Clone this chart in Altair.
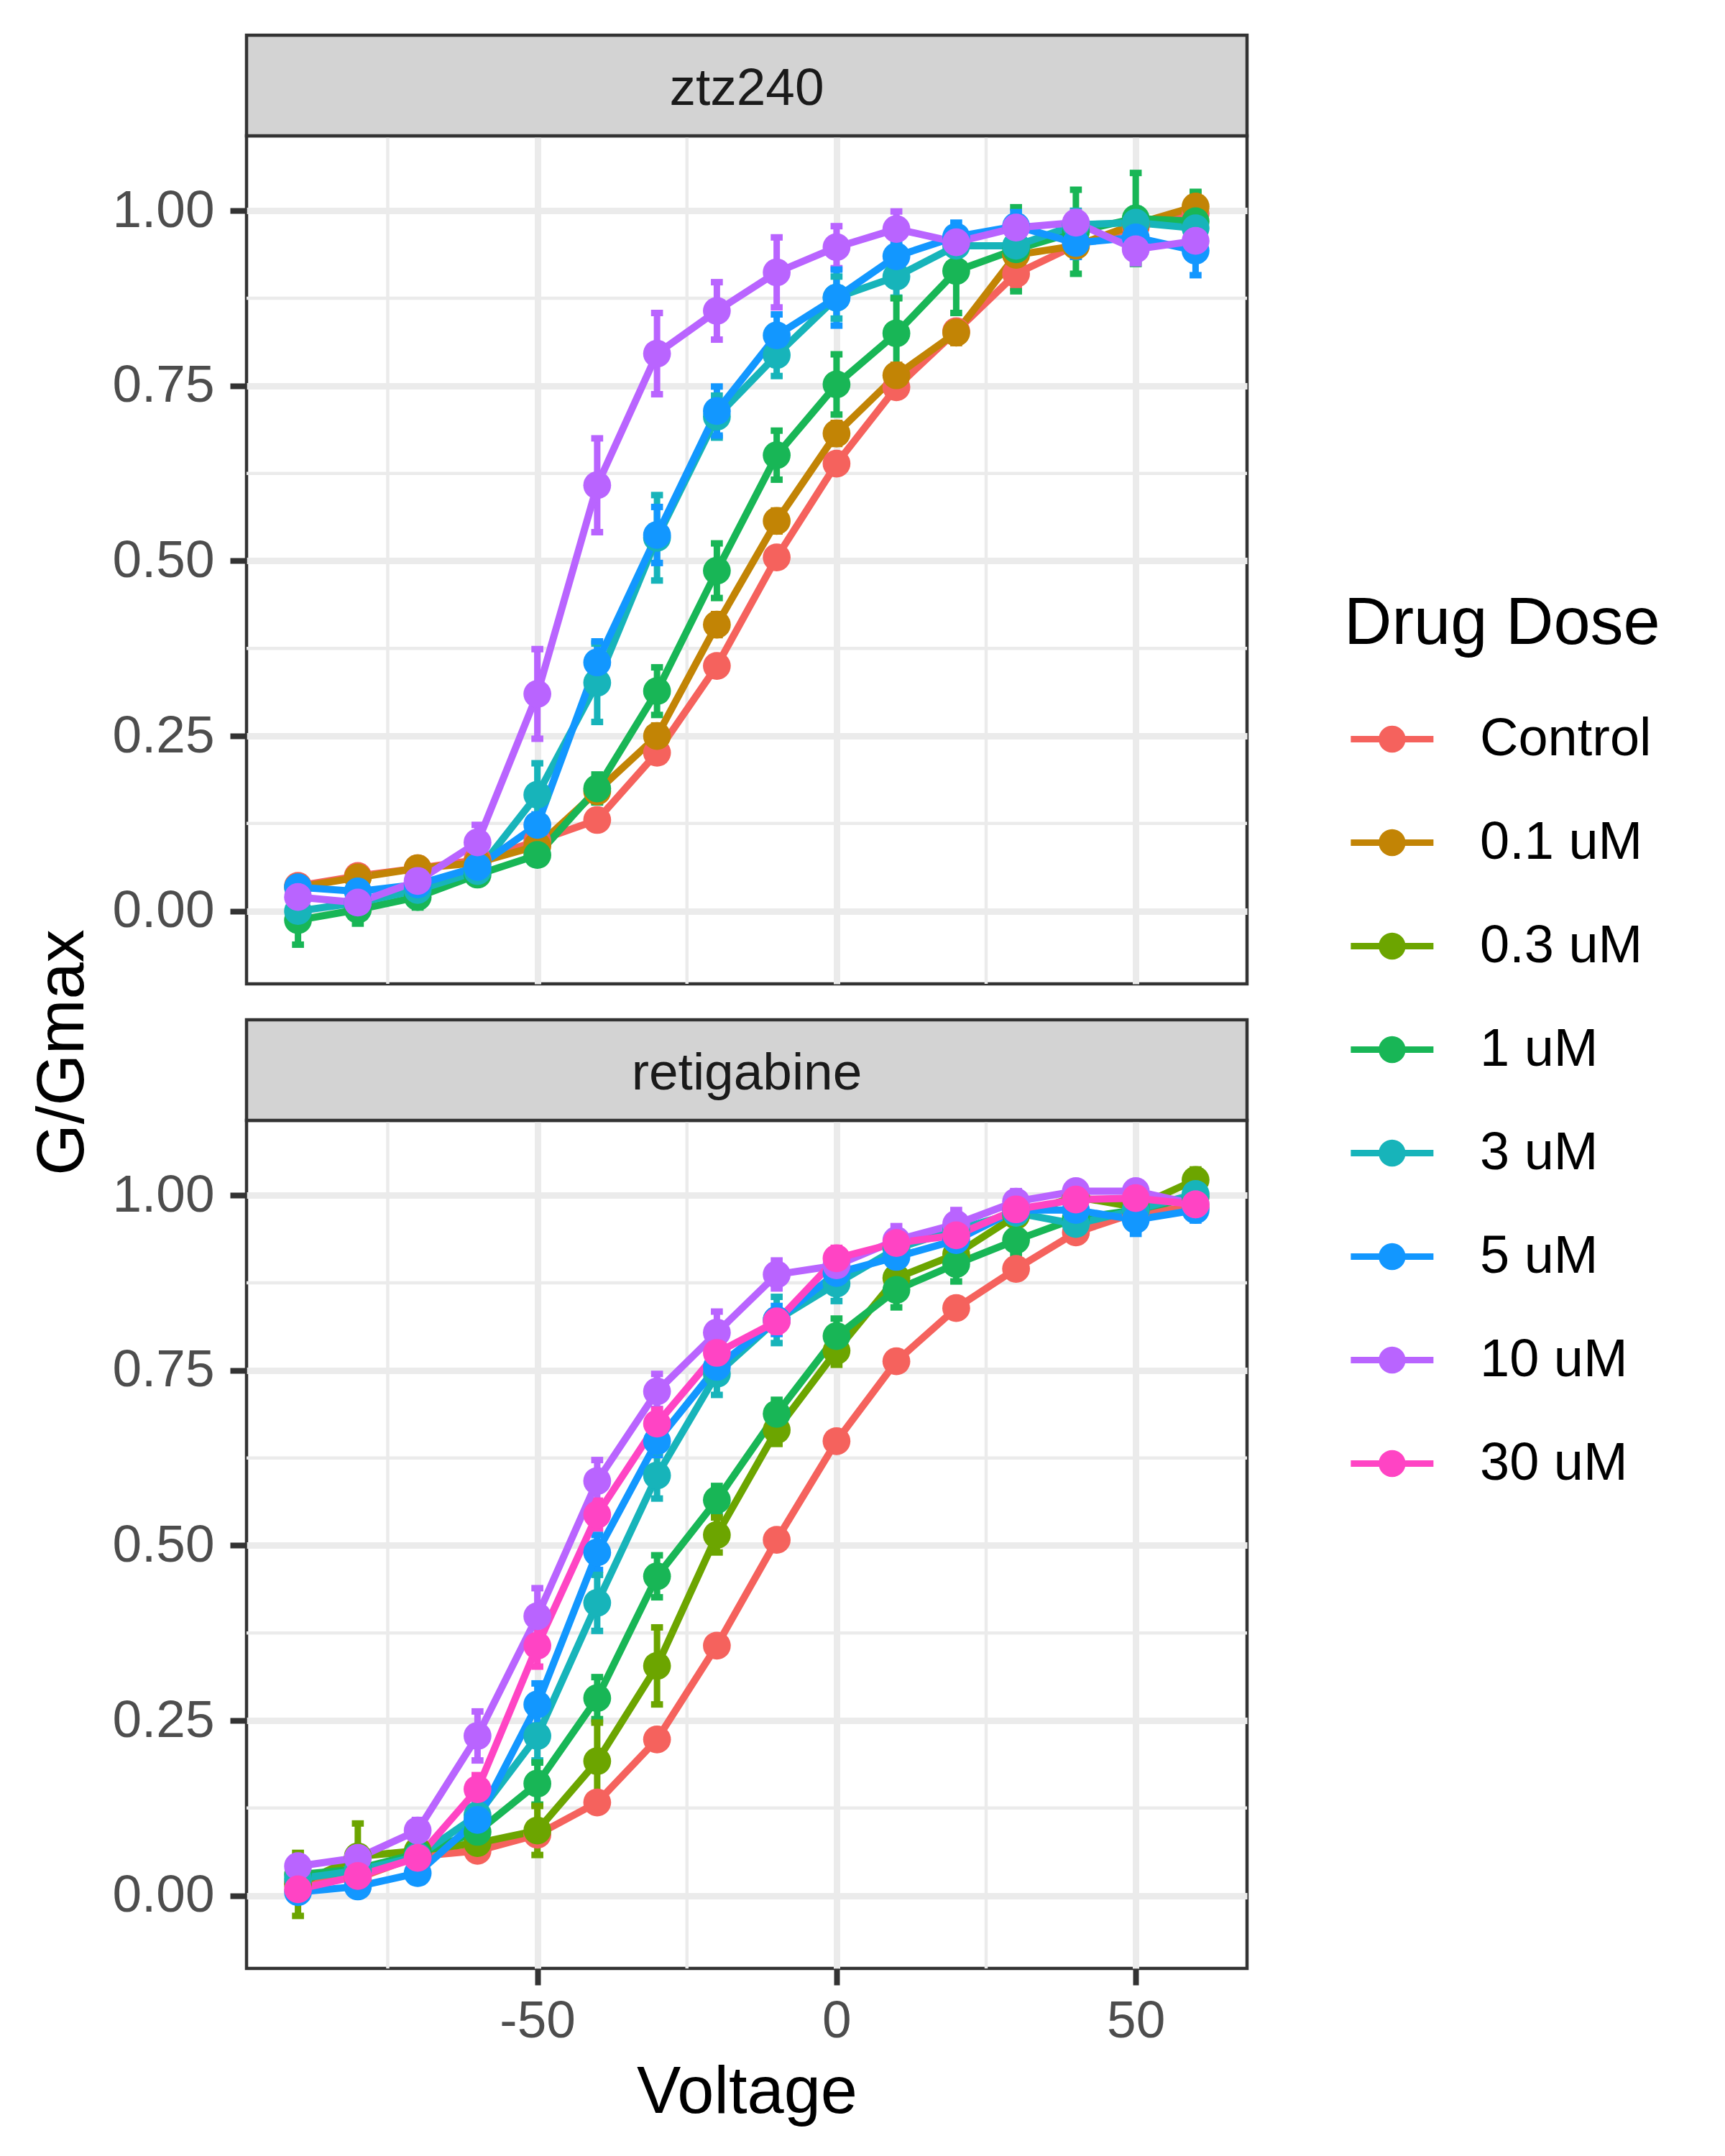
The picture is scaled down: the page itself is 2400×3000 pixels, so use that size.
import altair as alt
import pandas as pd

# ---------------- data ----------------
voltage = [-90, -80, -70, -60, -50, -40, -30, -20, -10, 0, 10, 20, 30, 40, 50, 60]
doses = ["Control", "0.1 uM", "0.3 uM", "1 uM", "3 uM", "5 uM", "10 uM", "30 uM"]
dose_colors = ["#F5625D", "#C28405", "#6CA500", "#18B656", "#17B4BA", "#1297FF", "#B964FF", "#FF44C4"]
panels = ["ztz240", "retigabine"]

# ztz240 panel: mean G/Gmax and SE
ztz_control = [0.036, 0.050, 0.061, 0.073, 0.100, 0.130, 0.226, 0.350, 0.505, 0.639, 0.748, 0.828, 0.910, 0.951, 0.977, 0.996]
ztz_control_se = [0.010, 0.010, 0.010, 0.010, 0.010, 0.010, 0.012, 0.012, 0.012, 0.012, 0.012, 0.012, 0.020, 0.015, 0.012, 0.012]
ztz_01 = [0.034, 0.048, 0.061, 0.069, 0.093, 0.171, 0.250, 0.409, 0.557, 0.682, 0.765, 0.826, 0.937, 0.950, 0.981, 1.006]
ztz_01_se = [0.010, 0.010, 0.010, 0.010, 0.012, 0.015, 0.015, 0.015, 0.015, 0.015, 0.015, 0.015, 0.015, 0.015, 0.015, 0.020]
ztz_1 = [-0.013, 0.002, 0.020, 0.052, 0.080, 0.175, 0.314, 0.486, 0.651, 0.752, 0.825, 0.914, 0.945, 0.970, 0.989, 0.985]
ztz_1_se = [0.035, 0.020, 0.015, 0.010, 0.012, 0.020, 0.034, 0.039, 0.035, 0.043, 0.050, 0.060, 0.060, 0.060, 0.065, 0.042]
ztz_3 = [0.000, 0.012, 0.030, 0.057, 0.166, 0.326, 0.533, 0.706, 0.794, 0.876, 0.906, 0.950, 0.950, 0.980, 0.983, 0.975]
ztz_3_se = [0.020, 0.015, 0.015, 0.015, 0.045, 0.056, 0.061, 0.030, 0.030, 0.030, 0.030, 0.020, 0.020, 0.020, 0.020, 0.020]
ztz_5 = [0.034, 0.028, 0.038, 0.063, 0.123, 0.355, 0.537, 0.714, 0.822, 0.876, 0.935, 0.963, 0.978, 0.954, 0.962, 0.943]
ztz_5_se = [0.010, 0.010, 0.010, 0.010, 0.015, 0.030, 0.040, 0.035, 0.030, 0.040, 0.020, 0.020, 0.020, 0.020, 0.020, 0.035]
ztz_10 = [0.020, 0.012, 0.043, 0.098, 0.310, 0.608, 0.796, 0.857, 0.912, 0.948, 0.974, 0.955, 0.976, 0.983, 0.945, 0.957]
ztz_10_se = [0.010, 0.010, 0.010, 0.025, 0.064, 0.067, 0.058, 0.041, 0.050, 0.030, 0.025, 0.015, 0.015, 0.015, 0.020, 0.015]

# retigabine panel: mean G/Gmax and SE
ret_control = [0.020, 0.025, 0.056, 0.064, 0.087, 0.133, 0.223, 0.357, 0.508, 0.649, 0.763, 0.839, 0.895, 0.947, 0.975, 0.983]
ret_control_se = [0.010, 0.010, 0.010, 0.010, 0.010, 0.010, 0.010, 0.010, 0.010, 0.010, 0.010, 0.010, 0.010, 0.010, 0.010, 0.010]
ret_03 = [0.016, 0.056, 0.064, 0.075, 0.093, 0.192, 0.328, 0.515, 0.665, 0.778, 0.882, 0.916, 0.971, 0.998, 0.983, 1.022]
ret_03_se = [0.045, 0.047, 0.015, 0.015, 0.035, 0.055, 0.055, 0.025, 0.020, 0.020, 0.020, 0.020, 0.020, 0.015, 0.015, 0.015]
ret_1 = [0.030, 0.038, 0.060, 0.091, 0.160, 0.282, 0.456, 0.565, 0.688, 0.799, 0.865, 0.902, 0.936, 0.967, 0.979, 0.998]
ret_1_se = [0.010, 0.010, 0.010, 0.015, 0.030, 0.030, 0.030, 0.020, 0.020, 0.025, 0.025, 0.025, 0.020, 0.015, 0.015, 0.015]
ret_3 = [0.024, 0.036, 0.056, 0.115, 0.228, 0.418, 0.600, 0.745, 0.822, 0.874, 0.924, 0.951, 0.975, 0.959, 0.979, 1.002]
ret_3_se = [0.010, 0.010, 0.010, 0.020, 0.035, 0.040, 0.033, 0.030, 0.033, 0.025, 0.020, 0.020, 0.015, 0.015, 0.015, 0.015]
ret_5 = [0.005, 0.013, 0.032, 0.108, 0.273, 0.490, 0.649, 0.755, 0.822, 0.889, 0.912, 0.936, 0.979, 0.979, 0.965, 0.979]
ret_5_se = [0.010, 0.010, 0.010, 0.015, 0.030, 0.025, 0.020, 0.020, 0.020, 0.020, 0.020, 0.020, 0.015, 0.015, 0.020, 0.015]
ret_10 = [0.042, 0.054, 0.093, 0.228, 0.399, 0.592, 0.720, 0.804, 0.887, 0.900, 0.936, 0.959, 0.991, 1.006, 1.006, 0.987]
ret_10_se = [0.010, 0.010, 0.015, 0.035, 0.040, 0.030, 0.025, 0.030, 0.020, 0.020, 0.020, 0.020, 0.015, 0.010, 0.010, 0.010]
ret_30 = [0.009, 0.028, 0.054, 0.152, 0.357, 0.544, 0.674, 0.775, 0.820, 0.910, 0.932, 0.943, 0.980, 0.994, 0.996, 0.987]
ret_30_se = [0.010, 0.010, 0.010, 0.020, 0.030, 0.020, 0.020, 0.020, 0.015, 0.015, 0.015, 0.015, 0.010, 0.010, 0.010, 0.010]

# axis breaks
x_major = [-50, 0, 50]
x_minor = [-75, -25, 25]
y_major = [0.0, 0.25, 0.5, 0.75, 1.0]
y_minor = [0.125, 0.375, 0.625, 0.875]

series = [
    ("ztz240", "Control", ztz_control, ztz_control_se),
    ("ztz240", "0.1 uM", ztz_01, ztz_01_se),
    ("ztz240", "1 uM", ztz_1, ztz_1_se),
    ("ztz240", "3 uM", ztz_3, ztz_3_se),
    ("ztz240", "5 uM", ztz_5, ztz_5_se),
    ("ztz240", "10 uM", ztz_10, ztz_10_se),
    ("retigabine", "Control", ret_control, ret_control_se),
    ("retigabine", "0.3 uM", ret_03, ret_03_se),
    ("retigabine", "1 uM", ret_1, ret_1_se),
    ("retigabine", "3 uM", ret_3, ret_3_se),
    ("retigabine", "5 uM", ret_5, ret_5_se),
    ("retigabine", "10 uM", ret_10, ret_10_se),
    ("retigabine", "30 uM", ret_30, ret_30_se),
]
rows = []
for panel_name, dose, g, se in series:
    for v, gi, si in zip(voltage, g, se):
        rows.append({"panel": panel_name, "dose": dose, "order": doses.index(dose),
                     "V": v, "G": gi, "SE": si})
df = pd.DataFrame(rows).sort_values(["panel", "order", "V"]).reset_index(drop=True)

# ---------------- style ----------------
W, H = 1392, 1180
STRIP_H = 140
FONT = "Liberation Sans"
GRID = "#EBEBEB"

xscale = alt.Scale(domain=[-98.6, 68.6], nice=False, zero=False)
yscale = alt.Scale(domain=[-0.104, 1.107], nice=False, zero=False)
cscale = alt.Scale(domain=doses, range=dose_colors)

# legend key: horizontal line with a dot (shifted right inside the key box)
SYMBOL = ("M-0.76,-0.12H2.24V0.12H-0.76Z "
          "M1.23,0A0.49,0.49,0,1,1,0.25,0A0.49,0.49,0,1,1,1.23,0Z")

legend = alt.Legend(
    orient="none", legendX=1527, legendY=634, direction="vertical",
    title="Drug Dose", titleFontSize=92, titleColor="black", titleFontWeight="normal",
    titleFont=FONT, titlePadding=75, titleLimit=2000,
    labelFontSize=74, labelColor="black", labelFont=FONT, labelLimit=2000, labelOffset=112,
    symbolType=SYMBOL, symbolSize=5878, symbolStrokeWidth=0, symbolOpacity=1,
    rowPadding=68, padding=0,
)
COLOR = alt.Color("dose:N", scale=cscale, legend=legend, sort=doses)


def make_panel(name, bottom):
    if bottom:
        xaxis = alt.Axis(values=x_major, title="Voltage", labelExpr="'' + datum.value",
                         titleFontSize=92, titleColor="black", titleFontWeight="normal",
                         titlePadding=17, labelPadding=14, tickSize=23)
        yaxis = alt.Axis(values=y_major, format=".2f", title=None)
    else:
        xaxis = alt.Axis(values=x_major, title=None, labels=False, ticks=False)
        yaxis = alt.Axis(values=y_major, format=".2f", title="G/Gmax",
                         titleX=-228, titleY=1275, titleAngle=270,
                         titleBaseline="alphabetic", titleAlign="center",
                         titleFontSize=92, titleColor="black", titleFontWeight="normal")

    minor_xr = alt.Chart(pd.DataFrame({"v": x_minor})).mark_rule(
        color=GRID, strokeWidth=4.5).encode(x=alt.X("v:Q", scale=xscale, axis=xaxis))
    minor_yr = alt.Chart(pd.DataFrame({"v": y_minor})).mark_rule(
        color=GRID, strokeWidth=4.5).encode(y=alt.Y("v:Q", scale=yscale, axis=yaxis))

    strip_df = pd.DataFrame({"panel": [name]})
    strip_rect = alt.Chart(strip_df).mark_rect(
        fill="#D3D3D3", stroke="#333333", strokeWidth=4.5, clip=False).encode(
        x=alt.value(0), x2=alt.value(W), y=alt.value(-STRIP_H), y2=alt.value(0))
    strip_text = alt.Chart(strip_df).mark_text(
        font=FONT, fontSize=73, color="#1A1A1A", align="center", baseline="alphabetic",
        clip=False).encode(text="panel:N", x=alt.value(W / 2), y=alt.value(-43))

    base = alt.Chart(df).transform_filter(alt.datum.panel == name).transform_calculate(
        lo="datum.G - datum.SE", hi="datum.G + datum.SE",
        xl="datum.V - 1", xr="datum.V + 1")
    X = alt.X("V:Q", scale=xscale, axis=xaxis)

    err = base.mark_rule(strokeWidth=9).encode(
        x=X, y=alt.Y("lo:Q", scale=yscale, axis=yaxis), y2="hi:Q", color=COLOR)
    cap_lo = base.mark_rule(strokeWidth=9).encode(
        x=alt.X("xl:Q", scale=xscale, axis=xaxis), x2="xr:Q",
        y=alt.Y("lo:Q", scale=yscale, axis=yaxis), color=COLOR)
    cap_hi = base.mark_rule(strokeWidth=9).encode(
        x=alt.X("xl:Q", scale=xscale, axis=xaxis), x2="xr:Q",
        y=alt.Y("hi:Q", scale=yscale, axis=yaxis), color=COLOR)
    lines = base.mark_line(strokeWidth=10, strokeJoin="round").encode(
        x=X, y=alt.Y("G:Q", scale=yscale, axis=yaxis), color=COLOR,
        order="V:Q")
    points = base.mark_point(filled=True, size=1500, opacity=1, strokeWidth=0).encode(
        x=X, y=alt.Y("G:Q", scale=yscale, axis=yaxis), color=COLOR)

    return alt.layer(minor_xr, minor_yr, err, cap_lo, cap_hi, lines, points,
                     strip_rect, strip_text).properties(width=W, height=H)


top = make_panel(panels[0], bottom=False)
bot = make_panel(panels[1], bottom=True)

chart = alt.vconcat(top, bot, spacing=190, bounds="flush").properties(
    padding={"left": 30, "top": 36, "right": 10, "bottom": 10},
    background="white",
).configure(font=FONT).configure_view(
    stroke="#333333", strokeWidth=4.5
).configure_axis(
    grid=True, gridColor=GRID, gridWidth=9, domain=False,
    labelFont=FONT, labelFontSize=73, labelColor="#4D4D4D", labelPadding=22,
    tickColor="#333333", tickWidth=8, tickSize=23,
    titleFont=FONT, titleFontWeight="normal",
)

chart.save("out.html", embed_options={"renderer": "svg", "actions": False})
